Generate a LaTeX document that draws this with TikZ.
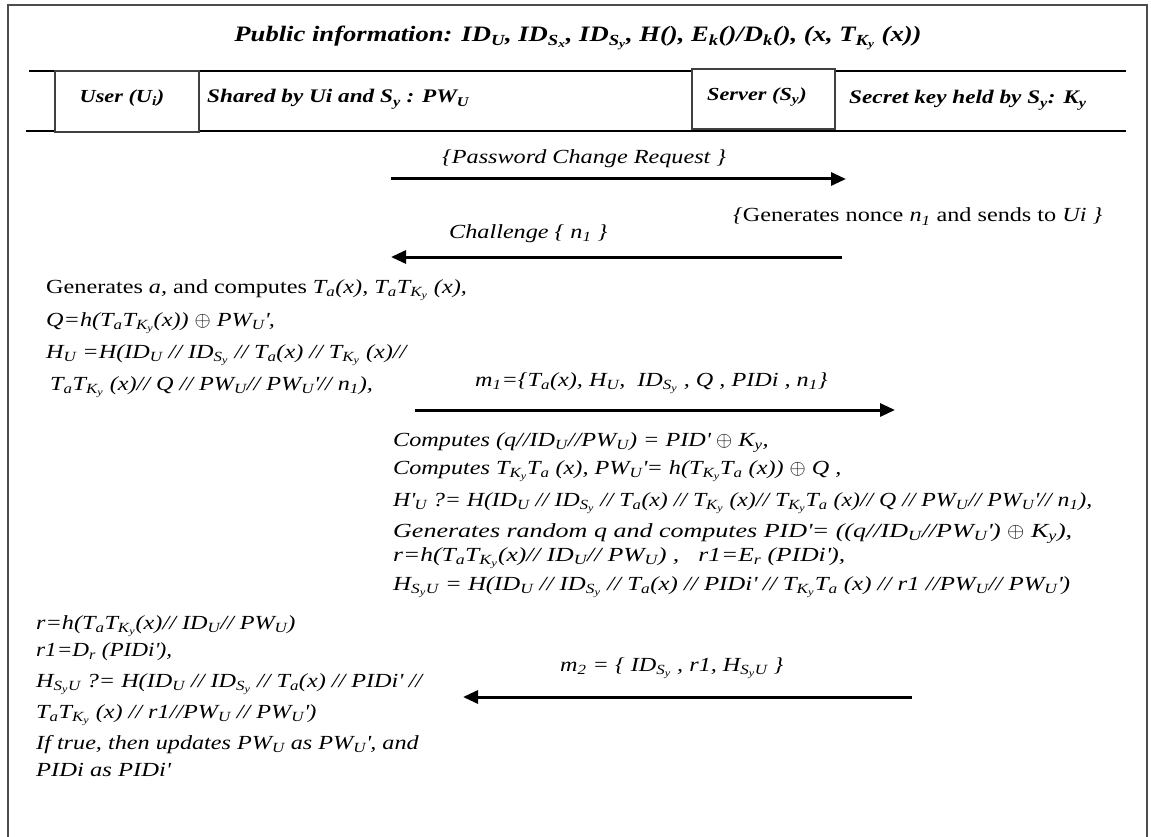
\documentclass[tikz,border=0pt]{standalone}
\usepackage{fontspec}
\setmainfont{Liberation Serif}[FakeStretch=1.21]
\usepackage{amsmath}
\usepackage{graphicx}
\usetikzlibrary{arrows.meta}
\newcommand\Sb[1]{\ensuremath{_{\text{#1}}}}
\newcommand\SSb[2]{\ensuremath{_{\text{#1}_{\text{#2}}}}}
\newcommand\pr{\textquotesingle}
\newcommand\xor{\ensuremath{\oplus}}
\newcommand\HSU{H\ensuremath{_{\text{S}_{\text{y}}\text{U}}}}
\newsavebox\fitbox
\newlength\fitlen
\newcommand\fitw[2]{\sbox\fitbox{#2}\fitlen=\wd\fitbox\pgfmathsetmacro\fitr{#1/\fitlen}\scalebox{\fitr}[1]{\usebox\fitbox}}
\begin{document}
\begin{tikzpicture}[x=1pt,y=-1pt,
  txt/.style={anchor=base west,inner sep=0pt,font=\fontsize{20}{24}\selectfont\itshape},
  hdr/.style={anchor=base west,inner sep=0pt,font=\fontsize{19.2}{23}\selectfont\bfseries\itshape},
  role/.style={anchor=base,inner sep=0pt,font=\fontsize{18.4}{22}\selectfont\bfseries\itshape},
  msg/.style={line width=3pt,-{Triangle[length=15pt,width=13pt]}},
  partybox/.style={draw=black!75,line width=2.5pt},
  rulel/.style={line width=2pt}]
\useasboundingbox (0,0) rectangle (1151,837);
% outer frame
\draw[black!70,line width=2pt] (8,837) -- (8,5) -- (1147,5) -- (1147,837);
% header rules and boxes
\coordinate (r1a) at (29,71); \coordinate (r1b) at (1126,71);
\coordinate (r2a) at (26,131); \coordinate (r2b) at (1126,131);
\draw[rulel] (r1a) -- (r1b);
\draw[rulel] (r2a) -- (r2b);
\draw[partybox,fill=white] (55,71) rectangle (199,132);
\draw[partybox,fill=white] (692,69) rectangle (835,129);
% header texts
\node[anchor=base,inner sep=0pt,font=\fontsize{22}{26}\selectfont\bfseries\itshape] (pub) at (578,42)
  {Public information: ID\Sb{U}, ID\SSb{S}{x}, ID\SSb{S}{y}, H(), E\Sb{k}()/D\Sb{k}(), (x, T\SSb{K}{y} (x))};
\node[role] (user) at (122,103) {User (U\Sb{i})};
\node[hdr] (shared) at (207,103) {Shared by Ui and S\Sb{y} : PW\Sb{U}};
\node[role] (server) at (757,101) {Server (S\Sb{y})};
\node[hdr] (secret) at (849,104) {Secret key held by S\Sb{y}: K\Sb{y}};
% message 1
\node[txt] (pcr) at (442,164) {\{Password Change Request \}};
\coordinate (a1s) at (391,179); \coordinate (a1e) at (846,179);
\draw[msg] (a1s) -- (a1e);
\node[txt] (gen) at (733,222) {\{\textup{Generates nonce} n\Sb{1} \textup{and sends to} Ui \}};
\node[txt] (chal) at (449,238) {Challenge \{ n\Sb{1} \}};
\coordinate (a2s) at (842,257); \coordinate (a2e) at (391,257);
\draw[msg] (a2s) -- (a2e);
% user block 1
\node[txt] (b1a) at (46,293) {\textup{Generates} a, \textup{and computes} T\Sb{a}(x), T\Sb{a}T\SSb{K}{y} (x),};
\node[txt] (b1b) at (46,326) {Q=h(T\Sb{a}T\SSb{K}{y}(x)) \xor{} PW\Sb{U}\pr,};
\node[txt] (b1c) at (46,358) {H\Sb{U} =H(ID\Sb{U} // ID\SSb{S}{y} // T\Sb{a}(x) // T\SSb{K}{y} (x)//};
\node[txt] (b1d) at (50,390) {T\Sb{a}T\SSb{K}{y} (x)// Q // PW\Sb{U}// PW\Sb{U}\pr// n\Sb{1}),};
% message m1
\node[txt] (m1) at (475,386) {m\Sb{1}=\{T\Sb{a}(x), H\Sb{U},\ \ ID\SSb{S}{y} , Q , PIDi , n\Sb{1}\}};
\coordinate (a3s) at (415,410); \coordinate (a3e) at (895,410);
\draw[msg] (a3s) -- (a3e);
% server block
\node[txt] (s1) at (393,446) {Computes (q//ID\Sb{U}//PW\Sb{U}) = PID\pr{} \xor{} K\Sb{y},};
\node[txt] (s2) at (393,474) {Computes T\SSb{K}{y}T\Sb{a} (x), PW\Sb{U}\pr= h(T\SSb{K}{y}T\Sb{a} (x)) \xor{} Q ,};
\node[txt] (s3) at (393,506) {\fitw{699}{H\pr\Sb{U} ?= H(ID\Sb{U} // ID\SSb{S}{y} // T\Sb{a}(x) // T\SSb{K}{y} (x)// T\SSb{K}{y}T\Sb{a} (x)// Q // PW\Sb{U}// PW\Sb{U}\pr// n\Sb{1}),}};
\node[txt] (s4) at (393,537) {\fitw{679}{Generates random q and computes PID\pr= ((q//ID\Sb{U}//PW\Sb{U}\pr) \xor{} K\Sb{y}),}};
\node[txt] (s5) at (393,561) {\fitw{452}{r=h(T\Sb{a}T\SSb{K}{y}(x)// ID\Sb{U}// PW\Sb{U}) ,\ \ \ r1=E\Sb{r} (PIDi\pr),}};
\node[txt] (s6) at (393,590) {\fitw{677}{\HSU{} = H(ID\Sb{U} // ID\SSb{S}{y} // T\Sb{a}(x) // PIDi\pr{} // T\SSb{K}{y}T\Sb{a} (x) // r1 //PW\Sb{U}// PW\Sb{U}\pr)}};
% user block 2
\node[txt] (b2a) at (36,629) {r=h(T\Sb{a}T\SSb{K}{y}(x)// ID\Sb{U}// PW\Sb{U})};
\node[txt] (b2b) at (36,656) {\fitw{136}{r1=D\Sb{r} (PIDi\pr),}};
\node[txt] (b2c) at (36,687) {\HSU{} ?= H(ID\Sb{U} // ID\SSb{S}{y} // T\Sb{a}(x) // PIDi\pr{} //};
\node[txt] (b2d) at (36,718) {T\Sb{a}T\SSb{K}{y} (x) // r1//PW\Sb{U} // PW\Sb{U}\pr)};
\node[txt] (b2e) at (36,749) {If true, then updates PW\Sb{U} as PW\Sb{U}\pr, and};
\node[txt] (b2f) at (36,776) {\fitw{134}{PIDi as PIDi\pr}};
% message m2
\node[txt] (m2) at (560,671) {m\Sb{2} = \{ ID\SSb{S}{y} , r1, \HSU{} \}};
\coordinate (a4s) at (912,697); \coordinate (a4e) at (463,697);
\draw[msg] (a4s) -- (a4e);
\end{tikzpicture}
\end{document}
